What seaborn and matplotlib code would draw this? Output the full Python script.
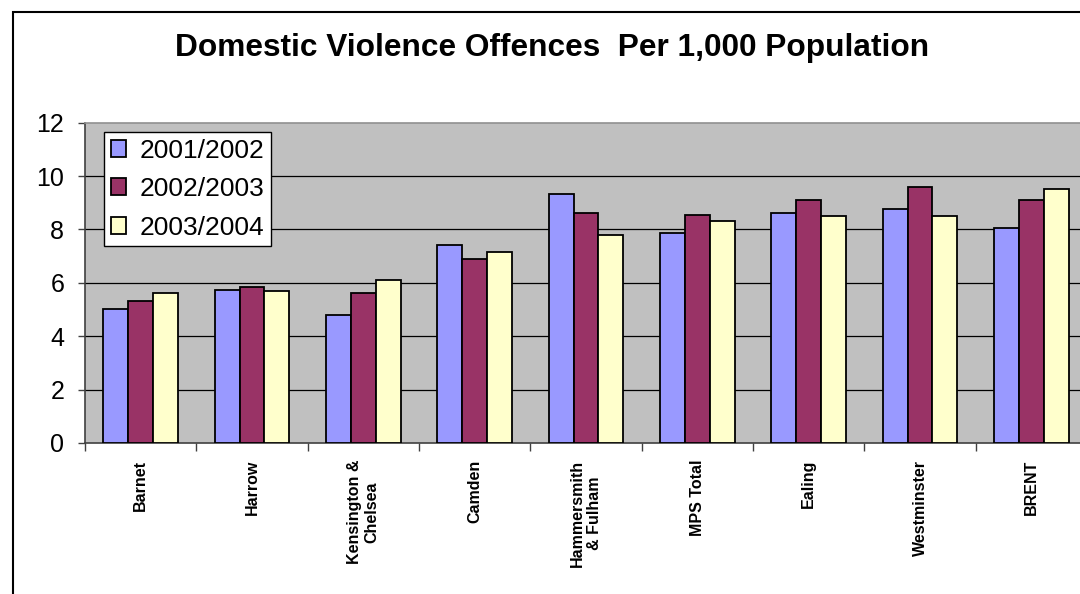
import seaborn as sns
import pandas as pd
import numpy as np
import matplotlib.pyplot as plt
from matplotlib.patches import Rectangle

boroughs = ['Barnet', 'Harrow', 'Kensington &\nChelsea', 'Camden', 'Hammersmith\n& Fulham',
            'MPS Total', 'Ealing', 'Westminster', 'BRENT']
years = ['2001/2002', '2002/2003', '2003/2004']
y2001 = [5.01, 5.73, 4.78, 7.40, 9.34, 7.85, 8.62, 8.76, 8.05]
y2002 = [5.31, 5.85, 5.61, 6.91, 8.62, 8.56, 9.11, 9.58, 9.11]
y2003 = [5.61, 5.68, 6.09, 7.15, 7.80, 8.33, 8.51, 8.51, 9.52]
colors = ['#9999FF', '#993366', '#FFFFCC']

df = pd.DataFrame({'borough': boroughs * 3,
                   'year': [y for y in years for _ in boroughs],
                   'value': y2001 + y2002 + y2003})

sns.set_theme(style='white')
plt.rcParams['font.family'] = ['Liberation Sans', 'DejaVu Sans']
plt.rcParams['text.color'] = 'black'
plt.rcParams['xtick.color'] = 'black'
plt.rcParams['ytick.color'] = 'black'

fig = plt.figure(figsize=(10.8, 5.94), dpi=100)
ax = fig.add_axes([85/1080, 151/594, 1002/1080, 320.3/594])
ax.set_facecolor('#C0C0C0')

sns.barplot(data=df, x='borough', y='value', hue='year', palette=colors,
            width=0.67, edgecolor='black', linewidth=1.3, saturation=1, ax=ax, zorder=3)

ax.set_xlim(-0.5, len(boroughs) - 0.5)
ax.set_ylim(0, 12)
ax.set_yticks(np.arange(0, 13, 2))
ax.set_yticklabels([str(v) for v in range(0, 13, 2)], fontsize=18)
for v in range(2, 12, 2):
    ax.axhline(v, color='black', linewidth=0.9, zorder=1)

ax.set_xticks(range(len(boroughs)))
ax.set_xticklabels(boroughs, rotation=90, fontsize=11.5, fontweight='bold',
                   ha='center', va='top', multialignment='center')
ax.set_xticks(np.arange(-0.5, len(boroughs), 1), minor=True)
ax.tick_params(axis='x', which='major', length=0, pad=12)
ax.tick_params(axis='x', which='minor', length=6, width=1, color='#404040', direction='out', bottom=True)
ax.tick_params(axis='y', length=5, width=1, color='#404040', direction='out', left=True, pad=10)
ax.set_xlabel('')
ax.set_ylabel('')

for side in ['left', 'bottom']:
    ax.spines[side].set_color('#404040')
    ax.spines[side].set_linewidth(1.2)
ax.spines['top'].set_color('#909090')
ax.spines['top'].set_linewidth(1.2)
ax.spines['right'].set_visible(False)

leg = ax.legend(loc='upper left', bbox_to_anchor=(0.019, 0.971), borderaxespad=0,
                fontsize=19, frameon=True, fancybox=False, handlelength=0.6,
                handleheight=0.6, handletextpad=0.5, labelspacing=0.55, borderpad=0.25)
leg.get_frame().set_edgecolor('black')
leg.get_frame().set_facecolor('white')
leg.get_frame().set_linewidth(1)
leg.get_frame().set_alpha(1)

fig.text(552/1080, 1 - 48/594, 'Domestic Violence Offences  Per 1,000 Population',
         ha='center', va='center', fontsize=22.8, fontweight='bold', color='black')

fig.patches.append(Rectangle((13/1080, -0.1), 1.2, 1 - 12/594 + 0.1, transform=fig.transFigure,
                             fill=False, edgecolor='black', linewidth=1.5))

fig.savefig('out.png', dpi=100)
